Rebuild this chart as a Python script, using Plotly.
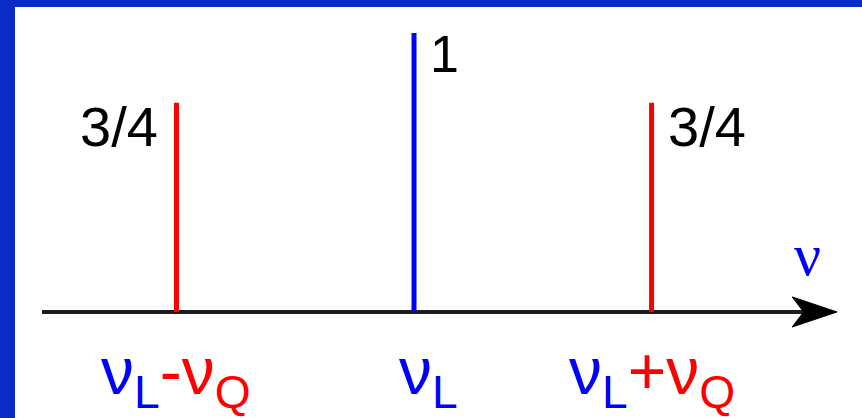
import plotly.graph_objects as go

# Spectral lines: frequency offset (units of nu_Q from nu_L) and relative intensity
positions = [-1, 0, 1]
intensities = [0.75, 1.0, 0.75]
intensity_labels = ["3/4", "1", "3/4"]
line_colors = ["#ff0000", "#0000ff", "#ff0000"]

BLUE = "#0000ff"
RED = "#ff0000"
FRAME = "#0a2cc6"

freq_labels = [
    f"<span style='color:{BLUE}'>ν<sub>L</sub></span><span style='color:{RED}'>-ν<sub>Q</sub></span>",
    f"<span style='color:{BLUE}'>ν<sub>L</sub></span>",
    f"<span style='color:{BLUE}'>ν<sub>L</sub></span><span style='color:{RED}'>+ν<sub>Q</sub></span>",
]
freq_label_shift = [0, 14, 0]

W, H = 862, 418
X_RANGE = [-1.743, 1.886]
Y_RANGE = [-0.380, 1.118]

fig = go.Figure()

for p, h, c in zip(positions, intensities, line_colors):
    fig.add_trace(go.Scatter(
        x=[p, p], y=[0, h], mode="lines",
        line=dict(color=c, width=5), hoverinfo="skip", showlegend=False,
    ))

annotations = []
font_main = "Liberation Sans, Arial, Helvetica, sans-serif"

# intensity labels next to each line
for p, h, t in zip(positions, intensities, intensity_labels):
    left = p < 0
    annotations.append(dict(
        x=p, y=h, xref="x", yref="y", text=t, showarrow=False,
        xanchor="right" if left else "left", yanchor="top",
        xshift=-16 if left else 14, yshift=10,
        font=dict(family=font_main, size=56 if t != "1" else 52, color="#000000"),
    ))

# frequency labels beneath the axis
for p, t, s in zip(positions, freq_labels, freq_label_shift):
    annotations.append(dict(
        x=p, y=0, xref="x", yref="y", text=t, showarrow=False,
        xanchor="center", yanchor="top", xshift=s, yshift=-20,
        font=dict(family=font_main, size=66, color=BLUE),
    ))

# axis label
annotations.append(dict(
    x=1.655, y=0, xref="x", yref="y", text="ν", showarrow=False,
    xanchor="center", yanchor="bottom", yshift=22,
    font=dict(family="Liberation Serif, Times New Roman, serif", size=60, color=BLUE),
))

# frequency axis with arrowhead
ax_start, ax_end = -1.566, 1.70
tip, back, notch, half = 1.781, 1.592, 1.640, 0.054
shapes = [
    dict(type="line", xref="x", yref="y", x0=ax_start, x1=ax_end, y0=0, y1=0,
         line=dict(color="#1c1c1c", width=4), layer="below"),
    dict(type="path", xref="x", yref="y",
         path=f"M {tip},0 L {back},{half} L {notch},0 L {back},{-half} Z",
         fillcolor="#000000", line=dict(color="#000000", width=1)),
    # frame strips on the left and top edges
    dict(type="rect", xref="paper", yref="paper", x0=0, x1=15 / W, y0=0, y1=1,
         fillcolor=FRAME, line=dict(width=0)),
    dict(type="rect", xref="paper", yref="paper", x0=0, x1=1, y0=1 - 7 / H, y1=1,
         fillcolor=FRAME, line=dict(width=0)),
]

fig.update_layout(
    width=W, height=H,
    margin=dict(l=0, r=0, t=0, b=0, pad=0),
    paper_bgcolor="#ffffff", plot_bgcolor="#ffffff",
    xaxis=dict(range=X_RANGE, visible=False, fixedrange=True),
    yaxis=dict(range=Y_RANGE, visible=False, fixedrange=True),
    annotations=annotations, shapes=shapes, showlegend=False,
)

fig.write_html("out.html")
